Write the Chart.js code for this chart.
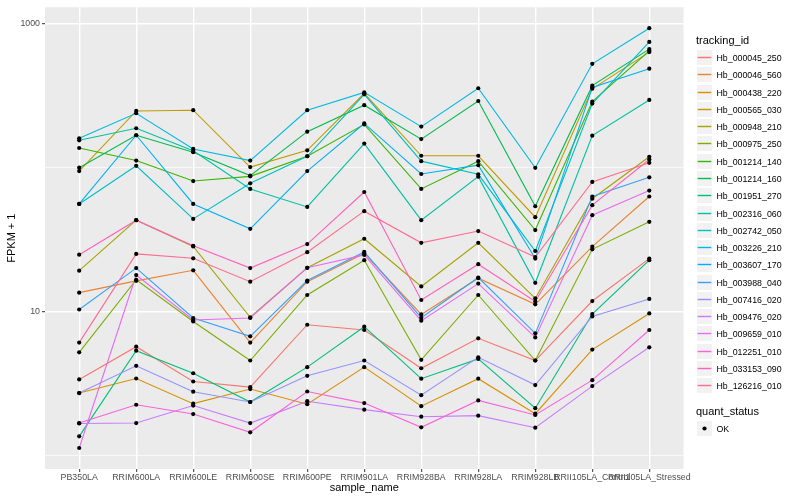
<!DOCTYPE html>
<html>
<head>
<meta charset="utf-8">
<script src="https://cdn.jsdelivr.net/npm/chart.js@4.4.0/dist/chart.umd.min.js"></script>
<style>
  html, body { margin: 0; padding: 0; background: #fff; }
  #wrap { position: relative; width: 800px; height: 500px; overflow: hidden;
          font-family: "Liberation Sans", Arial, Helvetica, sans-serif; }
  #plot { position: absolute; left: 0; top: 0; }
  .legend-title { position: absolute; left: 696px; font-size: 11px; line-height: 11px; color: #000; white-space: nowrap; }
  .key-row { position: absolute; left: 696px; height: 17px; display: flex; align-items: center; }
  .key { display: block; width: 17px; height: 17px; flex: none; }
  .key-label { margin-left: 3.5px; font-size: 8.8px; color: #000; white-space: nowrap; }
</style>
</head>
<body>
<div id="wrap">
  <canvas id="plot" width="800" height="500"></canvas>
  <div id="legend"></div>
</div>
<script>
// FPKM + 1 per sample, log10 y axis (ggplot style line chart)

const samples = ['PB350LA', 'RRIM600LA', 'RRIM600LE', 'RRIM600SE', 'RRIM600PE', 'RRIM901LA',
                 'RRIM928BA', 'RRIM928LA', 'RRIM928LB', 'RRII105LA_Control', 'RRII105LA_Stressed'];

const trackingIds = ['Hb_000045_250', 'Hb_000046_560', 'Hb_000438_220', 'Hb_000565_030', 'Hb_000948_210',
                     'Hb_000975_250', 'Hb_001214_140', 'Hb_001214_160', 'Hb_001951_270', 'Hb_002316_060',
                     'Hb_002742_050', 'Hb_003226_210', 'Hb_003607_170', 'Hb_003988_040', 'Hb_007416_020',
                     'Hb_009476_020', 'Hb_009659_010', 'Hb_012251_010', 'Hb_033153_090', 'Hb_126216_010'];

// one array per transcript, in sample order
const Hb_000045_250 = [3.36, 5.68, 3.25, 2.97, 8.07, 7.42, 4.02, 6.49, 4.55, 11.8, 23.3];
const Hb_000046_560 = [13.5, 16.3, 19.3, 6.06, 16.1, 25.3, 9.52, 17.0, 11.2, 28.2, 63.0];
const Hb_000438_220 = [2.70, 3.41, 2.28, 2.88, 2.26, 4.09, 2.19, 3.40, 1.94, 5.42, 9.67];
const Hb_000565_030 = [94.7, 248, 251, 101, 132, 329, 121, 121, 45.2, 354, 637];
const Hb_000948_210 = [19.2, 43.1, 28.3, 9.10, 20.1, 32.0, 14.9, 30.0, 12.3, 60.8, 119];
const Hb_000975_250 = [5.19, 16.6, 8.51, 4.55, 13.0, 22.7, 4.60, 13.0, 4.55, 27.0, 42.0];
const Hb_001214_140 = [137, 112, 80.7, 87.0, 120, 200, 71.1, 111, 36.8, 288, 650];
const Hb_001214_160 = [100, 168, 128, 88.0, 178, 272, 158, 291, 53.9, 372, 668];
const Hb_001951_270 = [1.35, 5.33, 3.71, 2.34, 4.09, 7.82, 3.40, 4.67, 2.12, 9.58, 22.7];
const Hb_002316_060 = [155, 188, 131, 71.1, 53.3, 147, 43.1, 86.6, 15.8, 167, 296];
const Hb_002742_050 = [55.9, 103, 44.0, 77.8, 120, 324, 111, 89.9, 26.3, 279, 750];
const Hb_003226_210 = [160, 239, 135, 112, 251, 334, 193, 357, 99.7, 528, 934];
const Hb_003607_170 = [55.9, 168, 55.9, 37.5, 94.7, 203, 90.3, 104, 23.3, 362, 488];
const Hb_003988_040 = [10.3, 20.0, 8.99, 6.70, 16.4, 25.9, 9.03, 17.2, 7.03, 63.0, 85.7];
const Hb_007416_020 = [2.70, 4.18, 2.76, 2.34, 3.56, 4.55, 2.61, 4.79, 3.07, 9.22, 12.2];
const Hb_009476_020 = [1.66, 1.67, 2.21, 1.67, 2.37, 2.07, 1.85, 1.88, 1.55, 3.02, 5.62];
const Hb_009659_010 = [1.12, 17.9, 8.70, 8.99, 20.1, 24.7, 8.61, 15.6, 6.59, 46.7, 69.3];
const Hb_012251_010 = [1.67, 2.24, 1.93, 1.44, 2.77, 2.30, 1.56, 2.40, 1.90, 3.32, 7.42];
const Hb_033153_090 = [24.8, 43.1, 28.6, 20.0, 29.4, 67.7, 12.0, 21.3, 11.7, 54.8, 114];
const Hb_126216_010 = [6.06, 25.1, 23.4, 16.1, 25.8, 49.8, 30.0, 36.2, 23.9, 79.5, 108];

const seriesValues = [Hb_000045_250, Hb_000046_560, Hb_000438_220, Hb_000565_030, Hb_000948_210,
                      Hb_000975_250, Hb_001214_140, Hb_001214_160, Hb_001951_270, Hb_002316_060,
                      Hb_002742_050, Hb_003226_210, Hb_003607_170, Hb_003988_040, Hb_007416_020,
                      Hb_009476_020, Hb_009659_010, Hb_012251_010, Hb_033153_090, Hb_126216_010];

const quantStatus = ['OK'];
const yMajor = [10, 1000];
const yGrid  = [1, 10, 100, 1000];

// ggplot default hue palette for 20 groups
const seriesColors = ['#F8766D', '#EA8331', '#D89000', '#C09B00', '#A3A500', '#7CAE00', '#39B600',
                      '#00BB4E', '#00BF7D', '#00C1A3', '#00BFC4', '#00BAE0', '#00B0F6', '#35A2FF',
                      '#9590FF', '#C77CFF', '#E76BF3', '#FA62DB', '#FF62BC', '#FF6C91'];

const FONT = '"Liberation Sans", Arial, Helvetica, sans-serif';

// grey panel behind the grid
const panelBg = {
    id: 'panelBg',
    beforeDraw(chart) {
        const a = chart.chartArea, c = chart.ctx;
        c.save();
        c.fillStyle = '#EBEBEB';
        c.fillRect(a.left, a.top, a.right - a.left, a.bottom - a.top);
        c.restore();
    }
};

function buildChart() {
    Chart.defaults.font.family = FONT;

    const lineSets = trackingIds.map((id, k) => ({
        label: id,
        data: seriesValues[k].map((v, i) => ({ x: i, y: v })),
        borderColor: seriesColors[k],
        borderWidth: 1.1,
        pointRadius: 0,
        tension: 0,
        fill: false,
        order: 100 - k
    }));

    const pointSet = {
        label: quantStatus[0],
        data: seriesValues.flatMap(s => s.map((v, i) => ({ x: i, y: v }))),
        showLine: false,
        pointRadius: 2.1,
        pointBackgroundColor: '#000',
        pointBorderWidth: 0,
        order: 0
    };

    const isMajor = ctx => ctx.tick && yMajor.includes(ctx.tick.value);

    new Chart(document.getElementById('plot'), {
        type: 'line',
        data: { datasets: [...lineSets, pointSet] },
        options: {
            responsive: false,
            animation: false,
            layout: { padding: { left: 0, right: 116.5, top: 5, bottom: 0 } },
            plugins: { legend: { display: false }, tooltip: { enabled: false } },
            scales: {
                x: {
                    type: 'linear',
                    min: -0.6,
                    max: samples.length - 0.4,
                    afterBuildTicks: s => { s.ticks = samples.map((_, i) => ({ value: i })); },
                    afterFit: s => { s.height = 31; },
                    border: { display: false },
                    grid: { color: '#FFFFFF', lineWidth: 1.4, tickLength: 3, tickColor: '#333333', tickWidth: 1 },
                    ticks: {
                        autoSkip: false, maxRotation: 0, minRotation: 0, padding: 0.5,
                        color: '#4D4D4D', font: { size: 8.8 },
                        callback: v => samples[v]
                    },
                    title: { display: true, text: 'sample_name', color: '#000', font: { size: 11 },
                             padding: { top: 0, bottom: 5.5 } }
                },
                y: {
                    type: 'logarithmic',
                    min: 0.8,
                    max: 1306,
                    afterBuildTicks: s => { s.ticks = yGrid.map(v => ({ value: v })); },
                    afterFit: s => { s.width = 45; },
                    border: { display: false },
                    grid: {
                        color: '#FFFFFF',
                        lineWidth: ctx => isMajor(ctx) ? 1.4 : 0.7,
                        tickLength: 3,
                        tickWidth: 1,
                        tickColor: ctx => isMajor(ctx) ? '#333333' : 'rgba(0,0,0,0)'
                    },
                    ticks: {
                        autoSkip: false, padding: 2, color: '#4D4D4D', font: { size: 8.8 },
                        callback: v => yMajor.includes(v) ? String(v) : ''
                    },
                    title: { display: true, text: 'FPKM + 1', color: '#000', font: { size: 11 },
                             padding: { top: 5.4, bottom: 0 } }
                }
            }
        },
        plugins: [panelBg]
    });
}

// ggplot style legend: two guides, grey key boxes drawn as small svgs
function keySvg(inner) {
    return '<svg class="key" width="17" height="17" viewBox="0 0 17 17">' +
           '<rect x="0.5" y="0.5" width="16" height="16" fill="#F2F2F2" stroke="#FFFFFF" stroke-width="1"/>' +
           inner + '</svg>';
}

function buildLegend() {
    const box = document.getElementById('legend');
    const rowH = 17.28;
    let html = '<div class="legend-title" style="top:34.7px">tracking_id</div>';
    trackingIds.forEach((id, k) => {
        const line = `<line x1="1.7" y1="8.5" x2="15.3" y2="8.5" stroke="${seriesColors[k]}" stroke-width="1.4"/>`;
        html += `<div class="key-row" style="top:${Math.round(49 + k * rowH)}px">` +
                keySvg(line) + `<span class="key-label">${id}</span></div>`;
    });
    html += '<div class="legend-title" style="top:405.8px">quant_status</div>';
    quantStatus.forEach((q, k) => {
        html += `<div class="key-row" style="top:${Math.round(420 + k * rowH)}px">` +
                keySvg('<circle cx="8.5" cy="8.5" r="2.1" fill="#000"/>') +
                `<span class="key-label">${q}</span></div>`;
    });
    box.innerHTML = html;
}

buildChart();
buildLegend();
</script>
</body>
</html>
